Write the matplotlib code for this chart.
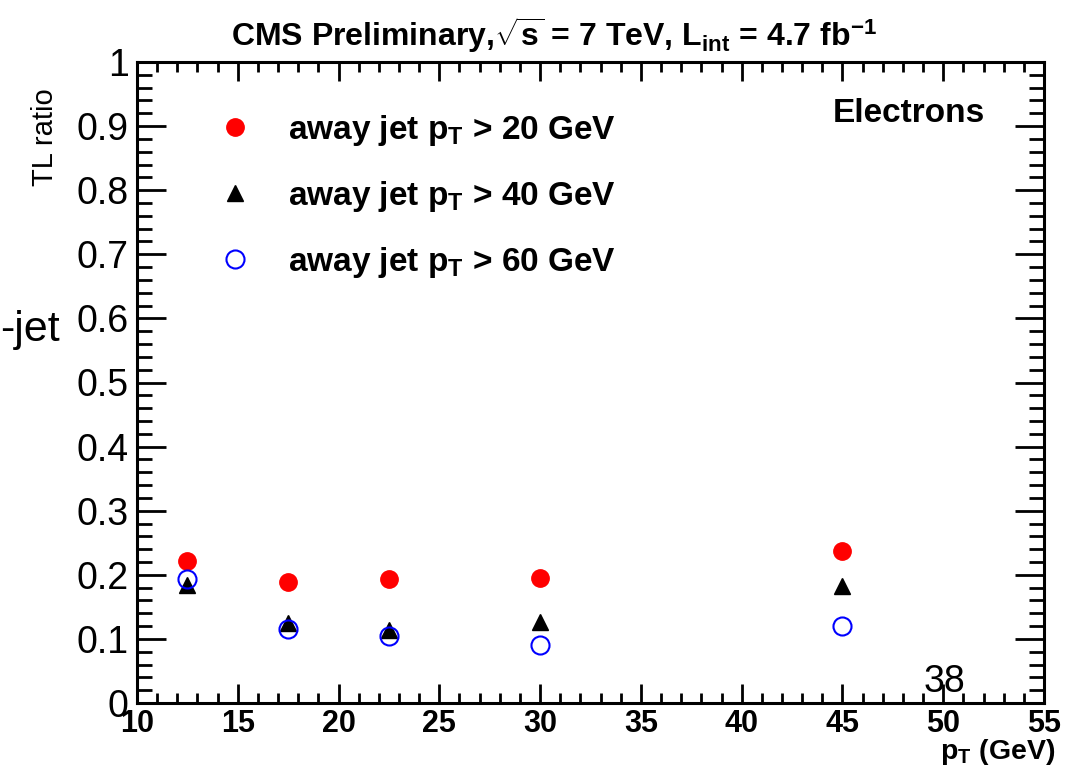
import matplotlib
matplotlib.use('Agg')
import matplotlib.pyplot as plt
from matplotlib.ticker import MultipleLocator

# ---- data ----
pt_bins = [12.5, 17.5, 22.5, 30.0, 45.0]
tl_jet20 = [0.221, 0.188, 0.193, 0.195, 0.237]
tl_jet40 = [0.184, 0.125, 0.114, 0.127, 0.183]
tl_jet60 = [0.193, 0.116, 0.105, 0.091, 0.120]
legend_labels = [r'away jet p$_\mathregular{T}$ > 20 GeV',
                 r'away jet p$_\mathregular{T}$ > 40 GeV',
                 r'away jet p$_\mathregular{T}$ > 60 GeV']

plt.rcParams['font.family'] = ['Liberation Sans', 'DejaVu Sans']
plt.rcParams['mathtext.fontset'] = 'custom'
plt.rcParams['mathtext.rm'] = 'Liberation Sans'
plt.rcParams['mathtext.bf'] = 'Liberation Sans:bold'
plt.rcParams['mathtext.default'] = 'regular'

fig = plt.figure(figsize=(10.87, 7.71), dpi=100, facecolor='w')
ax = fig.add_axes([137/1087, 1-703/771, (1044-137)/1087, (703-62)/771])

ax.plot(pt_bins, tl_jet20, 'o', color='red', ms=12.5, ls='none', label=legend_labels[0])
ax.plot(pt_bins, tl_jet40, '^', color='black', ms=11.5, ls='none', label=legend_labels[1])
ax.plot(pt_bins, tl_jet60, 'o', mfc='none', mec='blue', mew=1.5, ms=13, ls='none', label=legend_labels[2])

ax.set_xlim(10, 55)
ax.set_ylim(0, 1)
ax.xaxis.set_major_locator(MultipleLocator(5))
ax.xaxis.set_minor_locator(MultipleLocator(1))
ax.yaxis.set_minor_locator(MultipleLocator(0.02))
ax.set_yticks([0, 0.1, 0.2, 0.3, 0.4, 0.5, 0.6, 0.7, 0.8, 0.9, 1.0])
ax.set_yticklabels(['0', '0.1', '0.2', '0.3', '0.4', '0.5', '0.6', '0.7', '0.8', '0.9', '1'])
ax.tick_params(which='both', direction='in', top=True, right=True, width=2)
ax.tick_params(axis='x', which='major', length=14, labelsize=22, pad=4)
ax.tick_params(axis='x', which='minor', length=7)
ax.tick_params(axis='y', which='major', length=21, labelsize=27, pad=6)
ax.tick_params(axis='y', which='minor', length=11)
for lab in ax.get_xticklabels():
    lab.set_fontweight('bold')
for s in ax.spines.values():
    s.set_linewidth(2.2)

leg = ax.legend(loc='upper left', bbox_to_anchor=(0.0755, 0.941), frameon=False,
                prop={'weight': 'bold', 'size': 24}, labelspacing=0.93,
                handlelength=1.0, handletextpad=1.08, borderaxespad=0, numpoints=1)

ax.text(0.935, 0.92, 'Electrons', transform=ax.transAxes, ha='right', va='center',
        fontsize=24, fontweight='bold')
ax.text(0.89, 0.005, '38', transform=ax.transAxes, ha='center', va='bottom', fontsize=27)

fig.text(554/1087, 1-35/771, r'CMS Preliminary,$\sqrt{s}$ = 7 TeV, L$_{int}$ = 4.7 fb$^{-1}$',
         ha='center', va='center', fontsize=23, fontweight='bold')
fig.text(1055/1087, 1-759/771, r'p$_\mathregular{T}$ (GeV)', ha='right', va='baseline',
         fontsize=20.5, fontweight='bold')
fig.text(45/1087, 1-137/771, 'TL ratio', rotation=90, ha='center', va='center', fontsize=21)
fig.text(0.5/1087, 1-330/771, '-jet', ha='left', va='center', fontsize=31)

plt.savefig('out.png', dpi=100)
plt.close()
